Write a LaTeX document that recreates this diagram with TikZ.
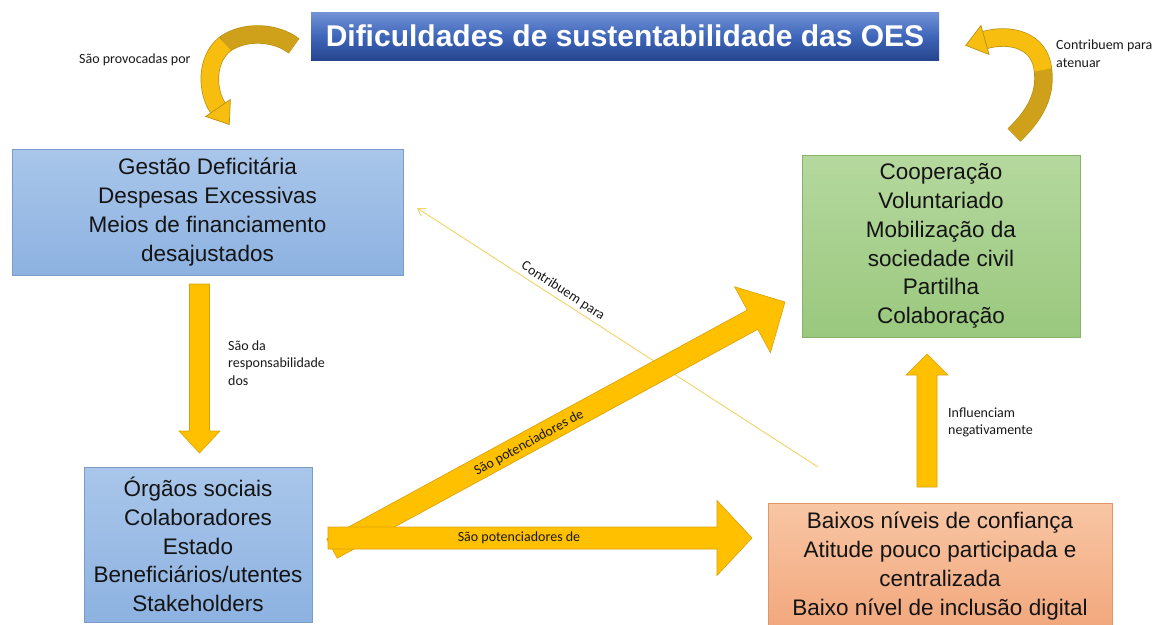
\documentclass[tikz,border=0pt]{standalone}
\usepackage{fontspec}
\setmainfont{Liberation Sans}
\newfontfamily\calib{Carlito}
\usetikzlibrary{calc,arrows.meta}
\definecolor{gold}{HTML}{FFC000}
\definecolor{goldline}{HTML}{D9A106}
\definecolor{curvdarkc}{HTML}{CFA11B}
\definecolor{curvbrightc}{HTML}{F7BD0F}
\definecolor{curvoutc}{HTML}{B8900F}
\definecolor{thinc}{HTML}{F2D464}
\definecolor{titletop}{HTML}{7393D6}
\definecolor{titlemid}{HTML}{3F66BA}
\definecolor{titlebot}{HTML}{27458F}
\definecolor{bluetop}{HTML}{A9C6EA}
\definecolor{bluebot}{HTML}{8DB2E1}
\definecolor{blueline}{HTML}{7A9CC6}
\definecolor{greentop}{HTML}{B5D89E}
\definecolor{greenbot}{HTML}{9AC87E}
\definecolor{greenline}{HTML}{86B26A}
\definecolor{orangetop}{HTML}{F8C6A4}
\definecolor{orangebot}{HTML}{F2A77C}
\definecolor{orangeline}{HTML}{E0956A}
\tikzset{
  boxtext/.style={align=center, inner sep=0pt, text=black!92,
    font=\fontsize{22.5}{28.8}\selectfont},
  bluebox/.style={boxtext, draw=blueline, line width=0.7pt, top color=bluetop, bottom color=bluebot},
  greenbox/.style={boxtext, draw=greenline, line width=0.7pt, top color=greentop, bottom color=greenbot},
  orangebox/.style={boxtext, draw=orangeline, line width=0.7pt, top color=orangetop, bottom color=orangebot},
  titlebox/.style={top color=titletop, bottom color=titlebot, middle color=titlemid,
    text=white, inner sep=0pt, font=\bfseries\fontsize{30}{36}\selectfont},
  lbl/.style={font=\calib\fontsize{14}{17.5}\selectfont, align=left, anchor=west, inner sep=0pt, text=black!90},
  arrlbl/.style={font=\calib\fontsize{14}{17.5}\selectfont, inner sep=0pt, text=black!90},
  blockarr/.style={draw=goldline, fill=gold, line width=0.6pt, line join=miter},
  curvout/.style={draw=curvoutc, line width=18.4pt, line cap=butt},
  curvdark/.style={draw=curvdarkc, line width=17pt, line cap=butt},
  curvbright/.style={draw=curvbrightc, line width=17pt, line cap=butt},
  curvhead/.style={fill=curvbrightc, draw=curvoutc, line width=0.7pt, line join=miter},
  thinarrow/.style={draw=thinc, line width=0.9pt, -{Straight Barb[length=7pt,width=9pt]}},
}
% #1 from, #2 to, #3 half shaft width, #4 half head width, #5 head length
\newcommand\blockarrow[5]{%
  \coordinate (bah) at ($(#2)!#5!(#1)$);
  \draw[blockarr] ($(#1)!#3!90:(#2)$) -- ($(bah)!#3!90:(#2)$) -- ($(bah)!#4!90:(#2)$)
    -- (#2) -- ($(bah)!#4!-90:(#2)$) -- ($(bah)!#3!-90:(#2)$) -- ($(#1)!#3!-90:(#2)$) -- cycle;
}
\begin{document}
\begin{tikzpicture}[x=1pt,y=-1pt]
\useasboundingbox (0,0) rectangle (1154,624);
\fill[white] (0,0) rectangle (1154,624);

% title
\node[titlebox, minimum width=628pt, minimum height=48pt] (title) at (625,36) {Dificuldades de sustentabilidade das OES};

% boxes
\node[bluebox, minimum width=391pt, minimum height=126pt] (gestao) at (207.5,212)
  {Gestão Deficitária\\Despesas Excessivas\\Meios de financiamento\\desajustados};
\node[bluebox, minimum width=228pt, minimum height=155pt] (orgaos) at (198,544.5)
  {Órgãos sociais\\Colaboradores\\Estado\\Beneficiários/utentes\\Stakeholders};
\node[greenbox, minimum width=278pt, minimum height=182pt] (coop) at (941,246)
  {Cooperação\\Voluntariado\\Mobilização da\\sociedade civil\\Partilha\\Colaboração};
\node[orangebox, minimum width=344pt, minimum height=126pt] (baixos) at (940,566)
  {Baixos níveis de confiança\\Atitude pouco participada e\\centralizada\\Baixo nível de inclusão digital};

% thin arrow (Contribuem para)
\coordinate (t0) at (818,467);
\coordinate (t1) at (417,208);
\draw[thinarrow] (t0) -- (t1);
\node[arrlbl, rotate=-32.9] (lcontr) at (563,291) {Contribuem para};

% block arrows
\coordinate (d0) at (199.5,284);
\coordinate (d1) at (199.5,453);
\blockarrow{d0}{d1}{10pt}{20.5pt}{22pt}
\coordinate (u0) at (927,487);
\coordinate (u1) at (927,354);
\blockarrow{u0}{u1}{10pt}{21pt}{21pt}
\coordinate (g0) at (332,548.5);
\coordinate (g1) at (785,302);
\blockarrow{g0}{g1}{11pt}{37.5pt}{37pt}
\coordinate (h0) at (328,538);
\coordinate (h1) at (752,538);
\blockarrow{h0}{h1}{11pt}{37.5pt}{35pt}

\node[arrlbl] (lpot1) at (519,538) {São potenciadores de};
\node[arrlbl, rotate=28.6] (lpot2) at (529,443) {São potenciadores de};

% curved arrow left (title -> gestao)
\coordinate (la0) at (294,46);
\coordinate (la1) at (225,44);
\coordinate (la2) at (218,108);
\coordinate (latip) at (229.3,124.5);
\draw[curvout] (la0) .. controls (276,32) and (245,30) .. (la1) .. controls (205,60) and (207,92) .. (la2);
\draw[curvdark] (la0) .. controls (276,32) and (245,30) .. (la1);
\draw[curvbright] (la1) .. controls (205,60) and (207,92) .. (la2);
\draw[curvhead] ($(la2)!15pt!90:(latip)$) -- (latip) -- ($(la2)!15pt!-90:(latip)$) -- cycle;

% curved arrow right (coop -> title)
\coordinate (ra0) at (1014,135);
\coordinate (ra1) at (1043,70);
\coordinate (ra2) at (985,40);
\coordinate (ratip) at (965.7,45.4);
\draw[curvout] (ra0) .. controls (1035,115) and (1046,95) .. (ra1) .. controls (1040,40) and (1010,33) .. (ra2);
\draw[curvdark] (ra0) .. controls (1035,115) and (1046,95) .. (ra1);
\draw[curvbright] (ra1) .. controls (1040,40) and (1010,33) .. (ra2);
\draw[curvhead] ($(ra2)!15pt!90:(ratip)$) -- (ratip) -- ($(ra2)!15pt!-90:(ratip)$) -- cycle;

% labels
\node[lbl] (lprov) at (79,60) {São provocadas por};
\node[lbl] (latenuar) at (1056,53.5) {Contribuem para\\atenuar};
\node[lbl] (lresp) at (228,363) {São da\\responsabilidade\\dos};
\node[lbl] (linfl) at (948,422.5) {Influenciam\\negativamente};
\end{tikzpicture}
\end{document}
